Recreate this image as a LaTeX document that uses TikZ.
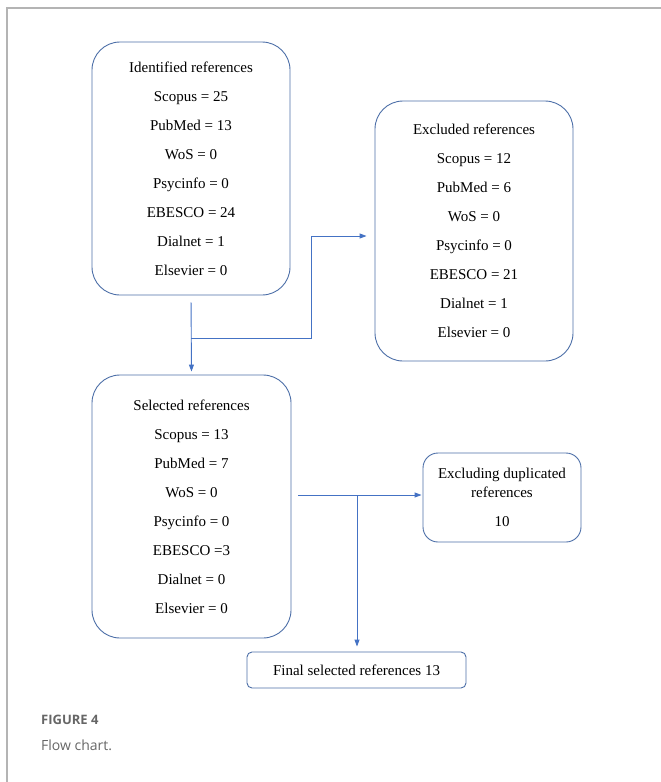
\documentclass[tikz,border=0pt]{standalone}
\usepackage{fontspec}
\setmainfont{Liberation Serif}
\newfontfamily\capfont{Open Sans}
\usetikzlibrary{arrows.meta,positioning}
\definecolor{boxblue}{HTML}{4D6FA8}
\definecolor{arrowblue}{HTML}{4472C4}
\definecolor{framegray}{HTML}{B4B4B4}
\definecolor{capgray}{HTML}{666666}

\begin{document}
\begin{tikzpicture}[x=1pt,y=1pt]
        \tikzstyle{refbox}=[draw=boxblue, line width=0.9pt, fill=white, align=center, inner sep=0pt,
                rounded corners=28pt, font=\fontsize{15}{29}\selectfont]
        \tikzstyle{flow}=[draw=arrowblue, line width=0.9pt, -{Triangle[length=7pt,width=5pt]}]
        \useasboundingbox (0,0) rectangle (661,-782);
        \draw [framegray, line width=1.2pt] (661,-8) -- (7,-8) -- (7,-782);
        \node [refbox, minimum width=198pt, minimum height=253pt] (ident) at (191,-168.5)
                {Identified references\\ Scopus = 25\\ PubMed = 13\\ WoS = 0\\ Psycinfo = 0\\ EBESCO = 24\\ Dialnet = 1\\ Elsevier = 0};
        \node [refbox, minimum width=198pt, minimum height=260pt] (excl) at (474,-231)
                {Excluded references\\ Scopus = 12\\ PubMed = 6\\ WoS = 0\\ Psycinfo = 0\\ EBESCO = 21\\ Dialnet = 1\\ Elsevier = 0};
        \node [refbox, minimum width=199pt, minimum height=263pt] (sel) at (191.5,-506.5)
                {Selected references\\ Scopus = 13\\ PubMed = 7\\ WoS = 0\\ Psycinfo = 0\\ EBESCO =3\\ Dialnet = 0\\ Elsevier = 0};
        \node [refbox, rounded corners=15pt, minimum width=158pt, minimum height=89pt,
                font=\fontsize{15}{19}\selectfont] (dup) at (502,-497.5)
                {Excluding duplicated\\ references\\[10pt] 10};
        \node [refbox, rounded corners=5pt, minimum width=219pt, minimum height=36pt] (final) at (356.5,-670)
                {Final selected references 13};
        % connectors
        \coordinate (split1) at (191,-338);
        \coordinate (turn1) at (311,-236);
        \draw [flow, shorten <=7pt, shorten >=3pt] (ident.south) -- (sel.north);
        \draw [flow, shorten >=8pt] (split1) -| (turn1) -- (excl.west |- turn1);
        \coordinate (start2) at (298,-495);
        \coordinate (split2) at (357,-495);
        \draw [flow, shorten >=1pt] (start2) -- (dup.west |- start2);
        \draw [flow, shorten >=5pt] (split2) -- (final.north -| split2);
        % caption
        \node [anchor=west, inner sep=0pt, text=capgray, font=\capfont\bfseries\fontsize{13}{15}\selectfont] (figno) at (41,-720) {FIGURE 4};
        \node [anchor=west, inner sep=0pt, text=capgray, font=\capfont\fontsize{14}{16}\selectfont] (figcap) at (41,-745) {Flow chart.};
\end{tikzpicture}
\end{document}
